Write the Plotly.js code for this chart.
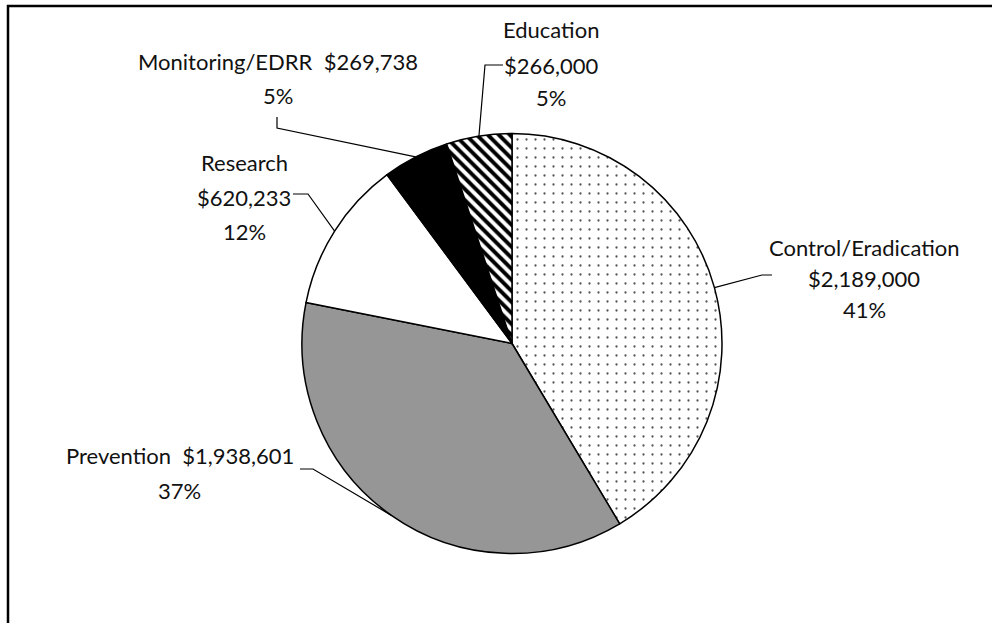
<!DOCTYPE html>
<html>
<head>
<meta charset="utf-8">
<script src="https://cdn.plot.ly/plotly-3.0.1.min.js"></script>
<style>html,body{margin:0;padding:0;background:#fff;}#chart{width:992px;height:623px;}</style>
</head>
<body>
<div id="chart"></div>
<script>
// ---- data ----
var categories = ['Control/Eradication', 'Prevention', 'Research', 'Monitoring/EDRR', 'Education'];
var values = [2189000, 1938601, 620233, 269738, 266000];
var sliceColors = ['#ffffff', '#969696', '#ffffff', '#000000', '#ffffff'];
var patternShapes = ['.', '', '', '', '\\'];

// ---- layout constants (pixels) ----
var W = 992, H = 623;
var CX = 512, CY = 343.5, R = 210;
var FONT = 'Lato, "Open Sans", sans-serif';
var FS = 22;
var TXT = '#111111';

// how each label is split into lines (uses the data above)
function money(v) { return '$' + v.toLocaleString('en-US'); }
var total = values.reduce(function (a, b) { return a + b; }, 0);
function pct(i) { return Math.round(values[i] / total * 100) + '%'; }

var labelLines = [
  [categories[0], money(values[0]), pct(0)],
  [categories[1] + '\u00a0\u00a0' + money(values[1]), pct(1)],
  [categories[2], money(values[2]), pct(2)],
  [categories[3] + '\u00a0\u00a0' + money(values[3]), pct(3)],
  [categories[4], money(values[4]), pct(4)]
];
// label placement (line centres) and leader elbows, in pixels
var labelX = [[864, 864, 864], [180, 179], [244, 244, 244], [278, 278], [551, 551, 551]];
var labelY = [[247, 278, 309], [455, 490], [162, 197, 231], [61, 96], [30, 65, 98]];
var leaderElbow = [[762, 275], [313, 469], [308, 194], [277, 128], [485, 65]];
var leaderEnd = [[772, 275], [300, 469], [293, 194], [277, 117], [503, 65]];

function px(x) { return x / W; }
function py(y) { return 1 - y / H; }

var annotations = [];
labelLines.forEach(function (lines, i) {
  lines.forEach(function (t, j) {
    annotations.push({
      xref: 'paper', yref: 'paper', x: px(labelX[i][j]), y: py(labelY[i][j]),
      xanchor: 'center', yanchor: 'middle', showarrow: false, text: t,
      font: {family: FONT, size: FS, color: TXT}
    });
  });
});

var shapes = [];
// frame (extends past the right and bottom edges)
shapes.push({type: 'rect', xref: 'paper', yref: 'paper', x0: px(8), x1: 1.05, y0: -0.05, y1: py(6),
  line: {color: '#000', width: 2.5}, fillcolor: 'rgba(0,0,0,0)'});

// leader lines from slice mid-angles
var cum = 0;
values.forEach(function (v, i) {
  var mid = (cum + v / 2) / total * 2 * Math.PI;
  cum += v;
  var ex = CX + R * Math.sin(mid), ey = CY - R * Math.cos(mid);
  shapes.push({type: 'path', xref: 'paper', yref: 'paper',
    path: 'M' + px(ex) + ',' + py(ey) + ' L' + px(leaderElbow[i][0]) + ',' + py(leaderElbow[i][1]) +
          ' L' + px(leaderEnd[i][0]) + ',' + py(leaderEnd[i][1]),
    line: {color: '#000', width: 1.2}});
});

var trace = {
  type: 'pie',
  labels: categories,
  values: values,
  sort: false,
  direction: 'clockwise',
  rotation: 0,
  textinfo: 'none',
  hoverinfo: 'skip',
  showlegend: false,
  domain: {x: [px(CX - R), px(CX + R)], y: [py(CY + R), py(CY - R)]},
  marker: {
    colors: sliceColors,
    line: {color: '#000', width: 1.5},
    pattern: {
      shape: patternShapes,
      fgcolor: ['#555555', '#000', '#000', '#000', '#000000'],
      bgcolor: sliceColors,
      size: [9, 8, 8, 8, 7.8],
      solidity: [0.05, 0.3, 0.3, 0.3, 0.5],
      fillmode: 'replace'
    }
  }
};

var layout = {
  width: W, height: H,
  margin: {l: 0, r: 0, t: 0, b: 0},
  paper_bgcolor: '#fff',
  plot_bgcolor: '#fff',
  showlegend: false,
  annotations: annotations,
  shapes: shapes
};

Plotly.newPlot('chart', [trace], layout, {displayModeBar: false, staticPlot: true});
</script>
</body>
</html>
